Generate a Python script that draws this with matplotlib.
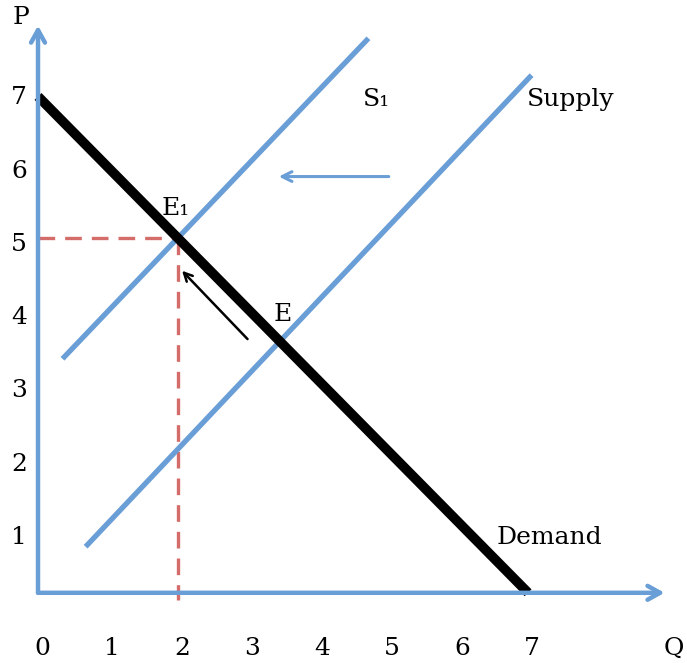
import numpy as np
import matplotlib.pyplot as plt

# demand / supply lines
demand_q = [0, 7]
demand_p = [7, 0]
supply_q = [0.68, 7.05]
supply_p = [0.65, 7.3]
s1_q = [0.35, 4.72]
s1_p = [3.3, 7.82]

eq_q, eq_p = 2, 5          # E1
x_ticks = [0, 1, 2, 3, 4, 5, 6, 7]
y_ticks = [1, 2, 3, 4, 5, 6, 7]

blue = "#6A9ED6"
red = "#D46C6A"

plt.rcParams["font.family"] = ["DejaVu Serif"]

fig = plt.figure(figsize=(6.87, 6.63), dpi=100)
ax = fig.add_axes([0, 0, 1, 1])
ax.set_xlim(-0.543, 9.27)
ax.set_ylim(-0.99, 8.36)
ax.axis("off")

# axes with arrows
arrow_kw = dict(arrowstyle="->,head_width=0.5,head_length=0.9", color=blue, lw=3.2, shrinkA=0, shrinkB=0)
ax.annotate("", xy=(0, 8.0), xytext=(0, 0), arrowprops=arrow_kw)
ax.annotate("", xy=(8.95, 0), xytext=(0, 0), arrowprops=arrow_kw)

# dashed guides
ax.plot([0, eq_q], [eq_p, eq_p], color=red, lw=2.4, ls=(0, (5, 3)))
ax.plot([eq_q, eq_q], [eq_p, -0.1], color=red, lw=2.4, ls=(0, (5, 3)))

# curves
ax.plot(supply_q, supply_p, color=blue, lw=3.8, solid_capstyle="butt")
ax.plot(s1_q, s1_p, color=blue, lw=3.8, solid_capstyle="butt")
ax.plot(demand_q, demand_p, color="black", lw=7, solid_capstyle="butt")

# shift arrows
ax.annotate("", xy=(3.4, 5.87), xytext=(5.05, 5.87),
            arrowprops=dict(arrowstyle="->,head_width=0.35,head_length=0.7", color=blue, lw=2.2))
ax.annotate("", xy=(2.03, 4.57), xytext=(3.02, 3.55),
            arrowprops=dict(arrowstyle="->,head_width=0.3,head_length=0.6", color="black", lw=1.8))

# labels (hand-placed in the original, spacing a bit wider than the grid)
fs = 18
for t in x_ticks:
    ax.text(0.06 + t * 1.0, -0.78, str(t), ha="center", va="center", fontsize=fs)
for t in y_ticks:
    ax.text(-0.27, 0.78 + (t - 1) * 1.033, str(t), ha="center", va="center", fontsize=fs)
ax.text(-0.24, 8.12, "P", ha="center", va="center", fontsize=fs)
ax.text(9.08, -0.78, "Q", ha="center", va="center", fontsize=fs)

ax.text(4.83, 6.95, "S\u2081", ha="center", va="center", fontsize=fs)
ax.text(6.98, 6.95, "Supply", ha="left", va="center", fontsize=fs)
ax.text(1.96, 5.42, "E\u2081", ha="center", va="center", fontsize=fs)
ax.text(3.5, 3.92, "E", ha="center", va="center", fontsize=fs)
ax.text(6.55, 0.78, "Demand", ha="left", va="center", fontsize=fs)

fig.savefig("out.png", dpi=100)
